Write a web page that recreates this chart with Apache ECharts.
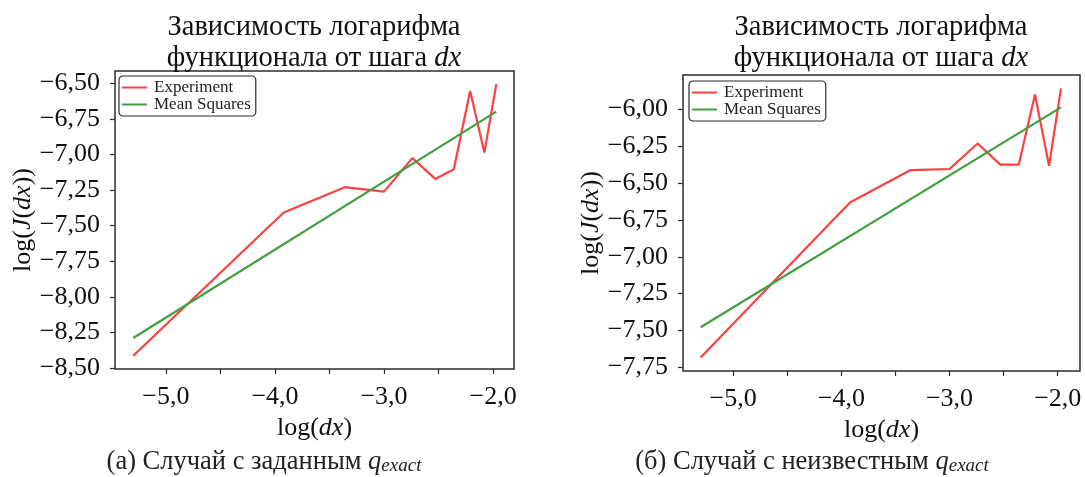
<!DOCTYPE html>
<html>
<head>
<meta charset="utf-8">
<script src="https://cdn.jsdelivr.net/npm/echarts@6/dist/echarts.min.js"></script>
<style>
html,body{margin:0;padding:0;background:#fff;}
#c{width:1085px;height:477px;}
</style>
</head>
<body>
<div id="c"></div>
<script>
// ---- data ----
const xLog = [-5.30, -3.92, -3.36, -3.00, -2.74, -2.53, -2.36, -2.21, -2.08, -1.97];
const expA = [-8.414, -7.408, -7.230, -7.261, -7.026, -7.172, -7.104, -6.554, -6.987, -6.505];
const expB = [-7.684, -6.632, -6.411, -6.404, -6.231, -6.374, -6.374, -5.898, -6.383, -5.857];
const fitX = [-5.30, -1.97];
const fitA = [-8.289, -6.699];
const fitB = [-7.478, -5.986];
const xTicks = [-5.0, -4.5, -4.0, -3.5, -3.0, -2.5, -2.0];
const xLabelTicks = [-5.0, -4.0, -3.0, -2.0];
const yTicksA = [-8.50, -8.25, -8.00, -7.75, -7.50, -7.25, -7.00, -6.75, -6.50];
const yTicksB = [-7.75, -7.50, -7.25, -7.00, -6.75, -6.50, -6.25, -6.00];
const seriesNames = ['Experiment', 'Mean Squares'];
const titleLine1 = 'Зависимость логарифма';
const titleLine2 = 'функционала от шага ';
const captionA = '(а) Случай с заданным ';
const captionB = '(б) Случай с неизвестным ';

const FONT = 'Liberation Serif';
const RED = '#ff4040';
const GREEN = '#40a040';
const FRAME = '#2b2b2b';

function fmt(d){ return v => (v < 0 ? '\u2212' : '') + Math.abs(v).toFixed(d).replace('.', ','); }
function zip(xs, ys){ return xs.map((x,i)=>[x, ys[i]]); }

const chart = echarts.init(document.getElementById('c'), null, {renderer:'canvas'});

const grids = [
  {left:115, top:71, width:399, height:298},
  {left:683, top:75, width:397, height:296}
];
const xr = [[-5.467, -1.808], [-5.463, -1.794]];
const yr = [[-8.507, -6.414], [-7.775, -5.766]];
const yt = [yTicksA, yTicksB];

function xAxis(i){
  return {
    type:'value', gridIndex:i, min:xr[i][0], max:xr[i][1],
    name:'log({i|dx})', nameLocation:'middle', nameGap:37,
    nameTextStyle:{fontFamily:FONT, fontSize:26, fontWeight:'normal', color:'#111', rich:{i:{fontFamily:FONT, fontSize:26, fontStyle:'italic', color:'#111'}}},
    axisLine:{show:false},
    axisTick:{show:true, inside:false, length:5, lineStyle:{color:FRAME, width:1.2}, customValues:xTicks},
    axisLabel:{show:true, margin:15, fontFamily:FONT, fontSize:26, color:'#111', formatter:fmt(1), customValues:xLabelTicks, showMinLabel:true, showMaxLabel:true},
    splitLine:{show:false}
  };
}
function yAxis(i){
  return {
    type:'value', gridIndex:i, min:yr[i][0], max:yr[i][1],
    name:'log({i|J}({i|dx}))', nameLocation:'middle', nameGap:72, nameRotate:90,
    nameTextStyle:{fontFamily:FONT, fontSize:26, fontWeight:'normal', color:'#111', rich:{i:{fontFamily:FONT, fontSize:26, fontStyle:'italic', color:'#111'}}},
    axisLine:{show:false},
    axisTick:{show:true, inside:false, length:5, lineStyle:{color:FRAME, width:1.2}, customValues:yt[i]},
    axisLabel:{show:true, margin:15, fontFamily:FONT, fontSize:26, color:'#111', formatter:fmt(2), customValues:yt[i]},
    splitLine:{show:false}
  };
}

const titleRich = {
  n:{fontFamily:FONT, fontSize:28.5, fontWeight:'normal', lineHeight:31, color:'#111'},
  i:{fontFamily:FONT, fontSize:28.5, fontWeight:'normal', lineHeight:31, fontStyle:'italic', color:'#111'}
};
const capRich = {
  n:{fontFamily:FONT, fontSize:26.5, fontWeight:'normal', lineHeight:25, color:'#222'},
  q:{fontFamily:FONT, fontSize:26.5, fontWeight:'normal', lineHeight:25, fontStyle:'italic', color:'#222'},
  s:{fontFamily:FONT, fontSize:19, fontWeight:'normal', lineHeight:14, fontStyle:'italic', color:'#222', verticalAlign:'bottom'}
};

function legend(i, left, top){
  return {
    data:seriesNames.map(n=>({name:n})),
    orient:'vertical', left:left, top:top,
    icon:'rect', itemWidth:25, itemHeight:2, itemGap:0,
    padding:[3,5,3,3],
    backgroundColor:'#fff', borderColor:FRAME, borderWidth:1.2, borderRadius:4,
    textStyle:{fontFamily:FONT, fontSize:17, lineHeight:17, color:'#222', padding:[0,0,0,2]},
    selectedMode:false
  };
}

const option = {
  animation:false,
  backgroundColor:'#fff',
  title:[
    {text:'{n|'+titleLine1+'}\n{n|'+titleLine2+'}{i|dx}', left:314, top:12, textAlign:'center', padding:0, textStyle:{fontWeight:'normal', rich:titleRich}},
    {text:'{n|'+titleLine1+'}\n{n|'+titleLine2+'}{i|dx}', left:881, top:12, textAlign:'center', padding:0, textStyle:{fontWeight:'normal', rich:titleRich}},
    {text:'{n|'+captionA+'}{q|q}{s|exact}', left:264, top:450, textAlign:'center', padding:0, textStyle:{fontWeight:'normal', rich:capRich}},
    {text:'{n|'+captionB+'}{q|q}{s|exact}', left:812, top:450, textAlign:'center', padding:0, textStyle:{fontWeight:'normal', rich:capRich}}
  ],
  legend:[legend(0,119,76), legend(1,689,81)],
  grid:grids.map(g=>Object.assign({show:true, borderColor:FRAME, borderWidth:1.5, backgroundColor:'transparent', containLabel:false}, g)),
  xAxis:[xAxis(0), xAxis(1)],
  yAxis:[yAxis(0), yAxis(1)],
  series:[
    {name:seriesNames[0], type:'line', xAxisIndex:0, yAxisIndex:0, data:zip(xLog, expA), showSymbol:false, lineStyle:{color:RED, width:2.2}, itemStyle:{color:RED}},
    {name:seriesNames[1], type:'line', xAxisIndex:0, yAxisIndex:0, data:zip(fitX, fitA), showSymbol:false, lineStyle:{color:GREEN, width:2.2}, itemStyle:{color:GREEN}},
    {name:seriesNames[0], type:'line', xAxisIndex:1, yAxisIndex:1, data:zip(xLog, expB), showSymbol:false, lineStyle:{color:RED, width:2.2}, itemStyle:{color:RED}},
    {name:seriesNames[1], type:'line', xAxisIndex:1, yAxisIndex:1, data:zip(fitX, fitB), showSymbol:false, lineStyle:{color:GREEN, width:2.2}, itemStyle:{color:GREEN}}
  ]
};
chart.setOption(option);
</script>
</body>
</html>
